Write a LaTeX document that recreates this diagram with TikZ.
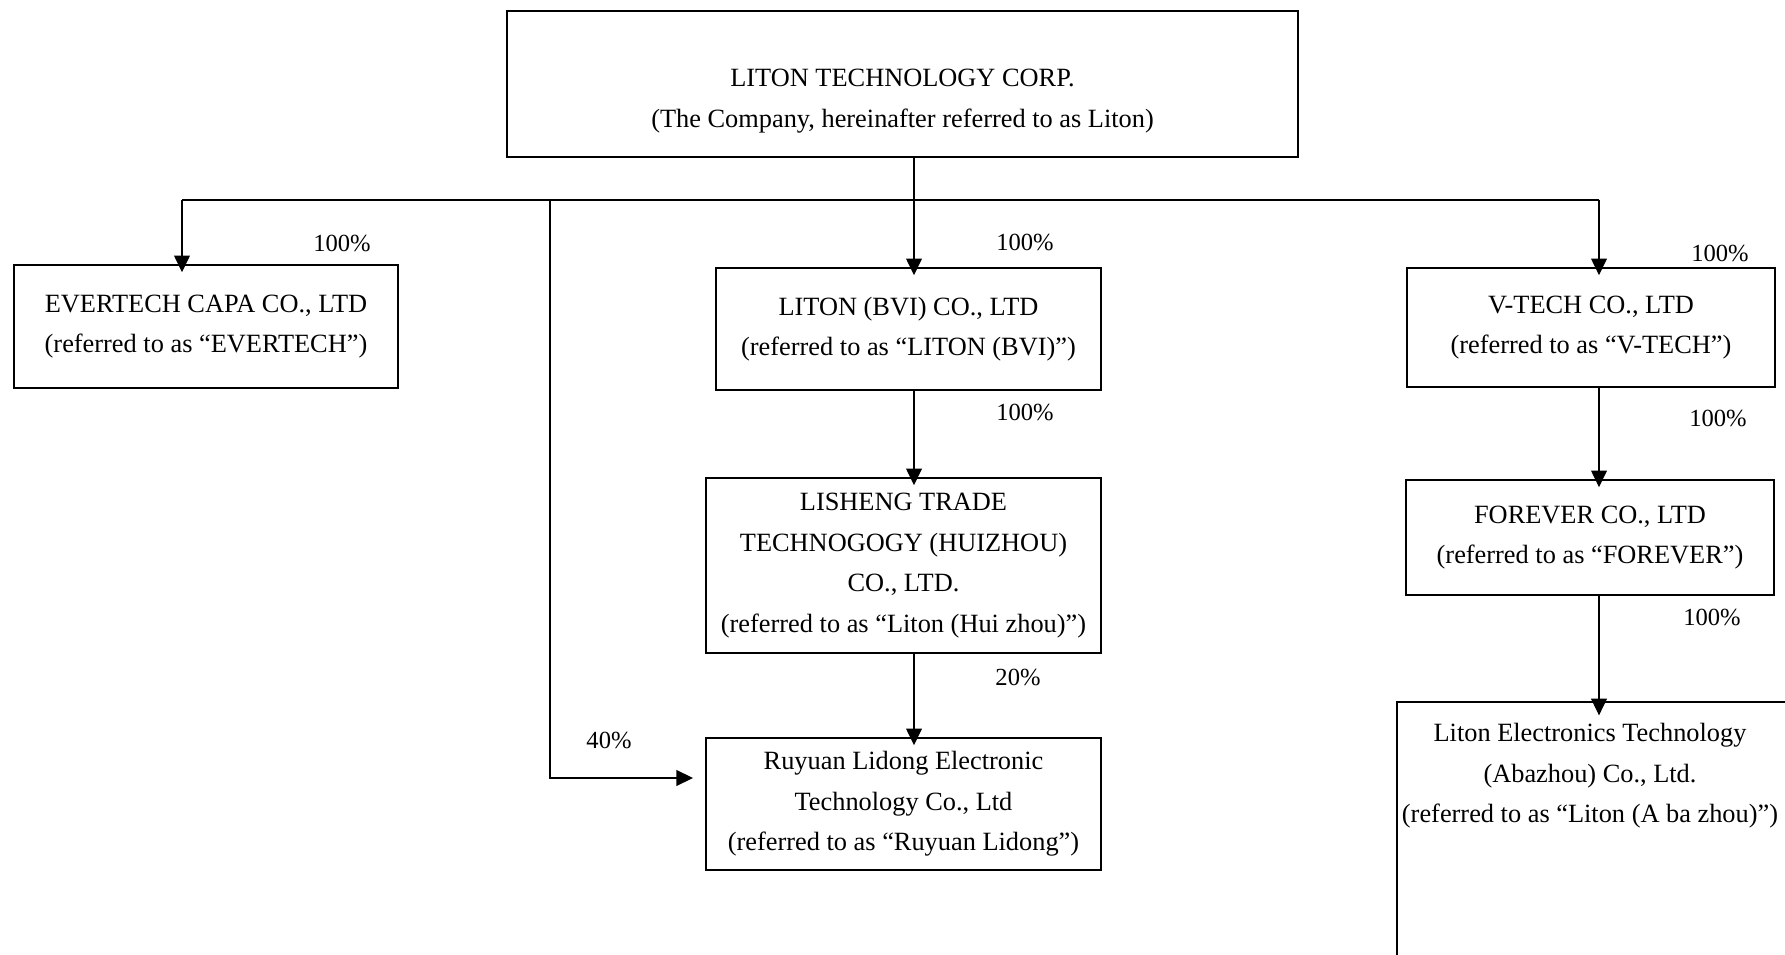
\documentclass[tikz,border=0pt]{standalone}
\usepackage{fontspec}
\setmainfont{Liberation Serif}
\usetikzlibrary{arrows.meta,calc}
\tikzset{every picture/.style={line width=0.8pt}}
\tikzset{
  box/.style={draw,rectangle,inner sep=0pt,align=center,font=\fontsize{15}{23}\selectfont},
  txt/.style={align=center,font=\fontsize{15}{23}\selectfont},
  pct/.style={font=\fontsize{14}{16}\selectfont},
  arr/.style={-{Triangle[length=9.5pt,width=9pt]},shorten >=-4.5pt}
}

\begin{document}
\begin{tikzpicture}[x=0.02cm,y=-0.02cm]
    \useasboundingbox (0,0) rectangle (1785,955);
    \clip (0,0) rectangle (1785,955);

    % Parent company
    \node[box,minimum width=15.82cm,minimum height=2.92cm] (liton) at (902.5,84) {};
    \node[txt] (litontext) at (902.5,101) {LITON TECHNOLOGY CORP.\\(The Company, hereinafter referred to as Liton)};

    % Subsidiaries
    \node[box,minimum width=7.68cm,minimum height=2.46cm] (evertech) at (206,326.5)
        {EVERTECH CAPA CO., LTD\\(referred to as “EVERTECH”)};
    \node[box,minimum width=7.70cm,minimum height=2.44cm] (bvi) at (908.5,329)
        {LITON (BVI) CO., LTD\\(referred to as “LITON (BVI)”)};
    \node[box,minimum width=7.90cm,minimum height=3.50cm] (lisheng) at (903.5,565.5)
        {LISHENG TRADE\\TECHNOGOGY (HUIZHOU)\\CO., LTD.\\(referred to as “Liton (Hui zhou)”)};
    \node[box,minimum width=7.90cm,minimum height=2.64cm] (ruyuan) at (903.5,804)
        {Ruyuan Lidong Electronic\\Technology Co., Ltd\\(referred to as “Ruyuan Lidong”)};
    \node[box,minimum width=7.36cm,minimum height=2.38cm] (vtech) at (1591,327.5)
        {V-TECH CO., LTD\\(referred to as “V-TECH”)};
    \node[box,minimum width=7.36cm,minimum height=2.30cm] (forever) at (1590,537.5)
        {FOREVER CO., LTD\\(referred to as “FOREVER”)};
    \node[box,minimum width=7.86cm,minimum height=5.96cm] (abazhou) at (1593.5,851) {};
    \node[txt] (abazhoutext) at (1590,776)
        {Liton Electronics Technology\\(Abazhou) Co., Ltd.\\(referred to as “Liton (A ba zhou)”)};

    % Bus line
    \coordinate (hub) at (914,200);
    \coordinate (busL) at (182,200);
    \coordinate (busR) at (1599,200);
    \coordinate (tap) at (550,200);
    \coordinate (bend) at (550,778);
    \draw (hub |- liton.south) -- (hub);
    \draw (busL) -- (busR);

    % Ownership arrows
    \draw[arr] (busL) -- (busL |- evertech.north);
    \draw[arr] (hub) -- (hub |- bvi.north);
    \draw[arr] (busR) -- (busR |- vtech.north);
    \draw[arr,shorten >=7pt] (tap) -- (bend) -- (bend -| ruyuan.west);
    \draw[arr] (hub |- bvi.south) -- (hub |- lisheng.north);
    \draw[arr] (hub |- lisheng.south) -- (hub |- ruyuan.north);
    \draw[arr] (busR |- vtech.south) -- (busR |- forever.north);
    \draw[arr,shorten >=-8pt] (busR |- forever.south) -- (busR |- abazhou.north);

    % Percentages
    \node[pct] (p1) at (342,243) {100\%};
    \node[pct] (p2) at (1025,242) {100\%};
    \node[pct] (p3) at (1720,253) {100\%};
    \node[pct] (p4) at (1025,412) {100\%};
    \node[pct] (p5) at (1018,677) {20\%};
    \node[pct] (p6) at (609,740) {40\%};
    \node[pct] (p7) at (1718,418) {100\%};
    \node[pct] (p8) at (1712,617) {100\%};
\end{tikzpicture}
\end{document}
